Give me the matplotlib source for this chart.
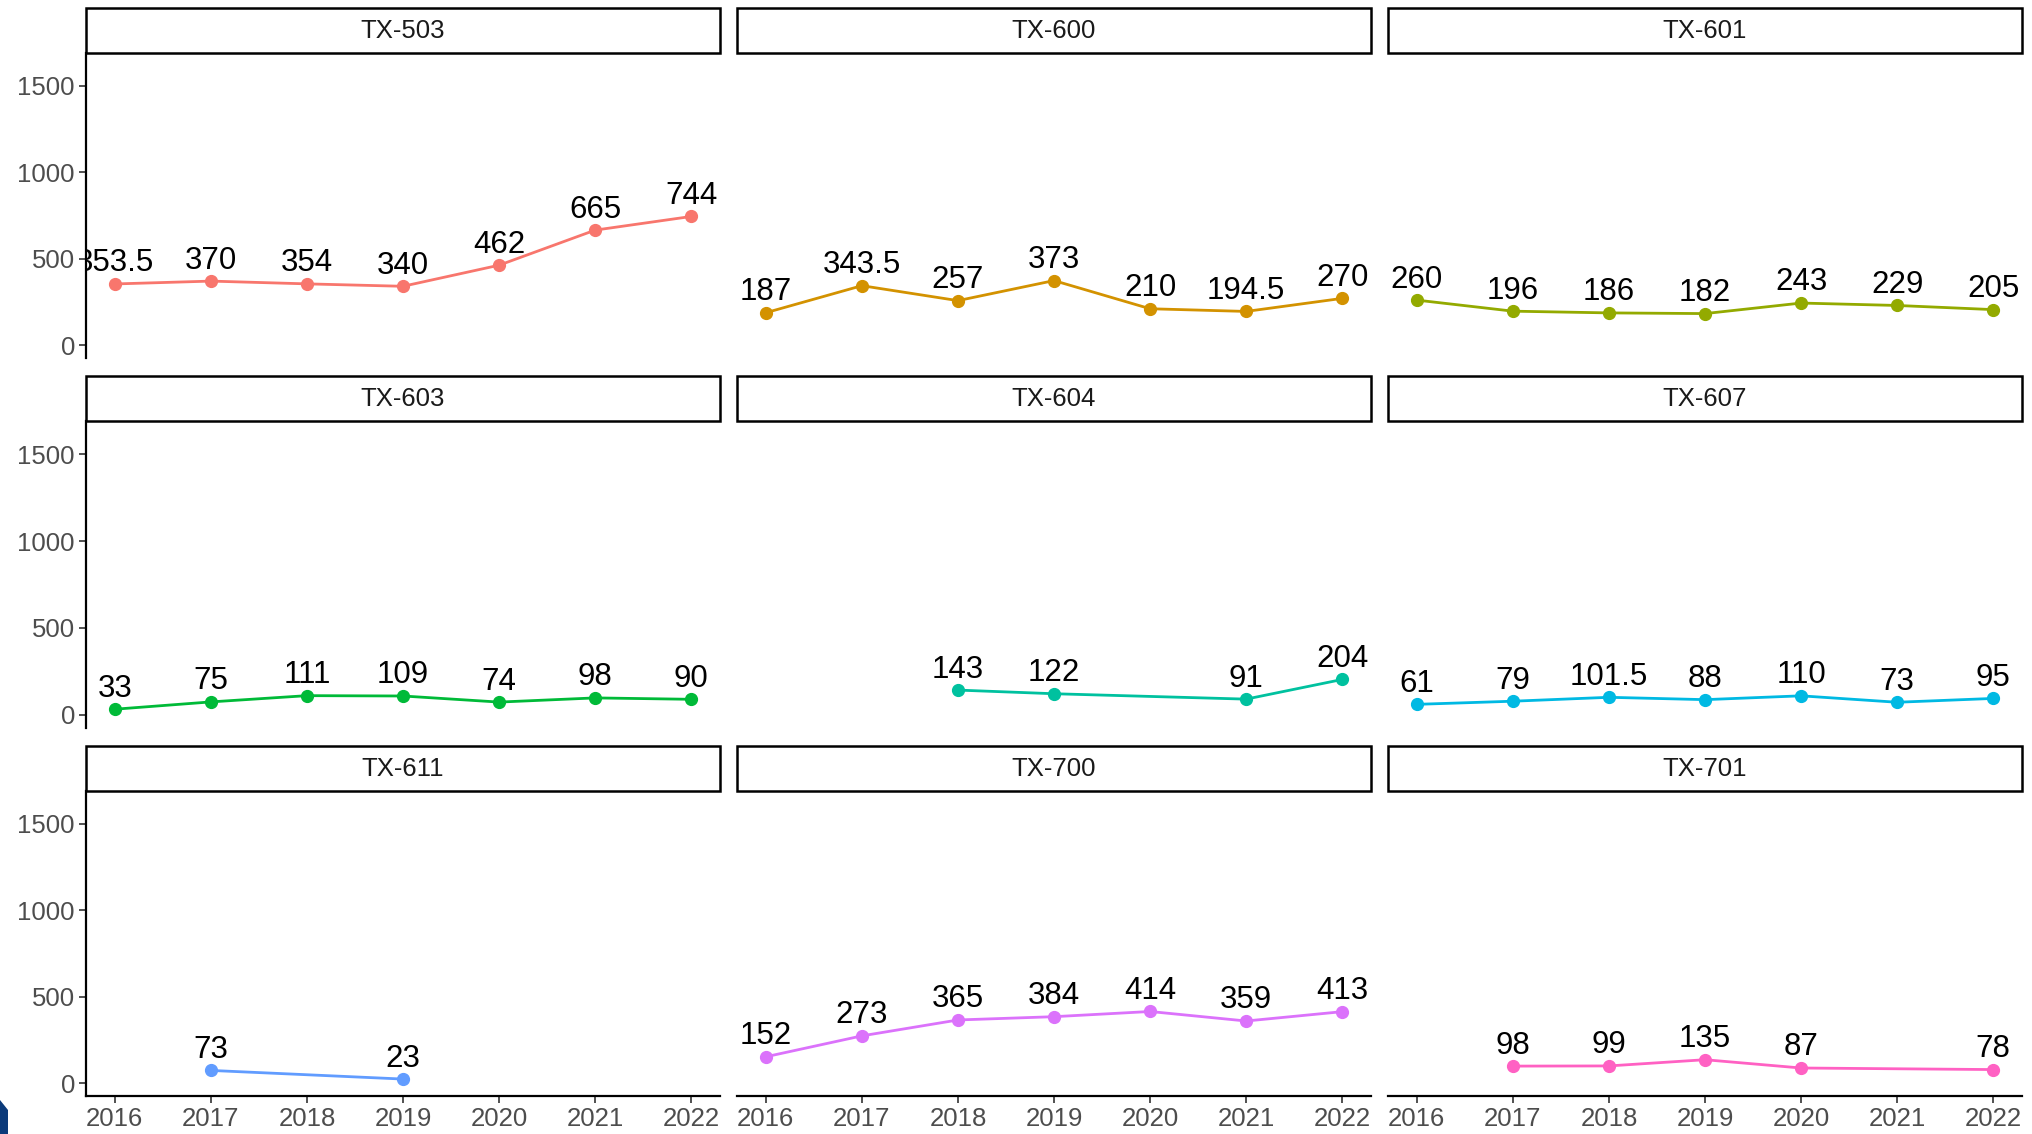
import matplotlib
matplotlib.use("Agg")
import matplotlib.pyplot as plt
from matplotlib.patches import Rectangle, Polygon

plt.rcParams['font.family'] = ['Liberation Sans', 'DejaVu Sans']

# ---- data ----
panels = ["TX-503", "TX-600", "TX-601", "TX-603", "TX-604", "TX-607", "TX-611", "TX-700", "TX-701"]
years_all = [2016, 2017, 2018, 2019, 2020, 2021, 2022]

tx503_years = [2016, 2017, 2018, 2019, 2020, 2021, 2022]
tx503_vals = [353.5, 370, 354, 340, 462, 665, 744]
tx600_years = [2016, 2017, 2018, 2019, 2020, 2021, 2022]
tx600_vals = [187, 343.5, 257, 373, 210, 194.5, 270]
tx601_years = [2016, 2017, 2018, 2019, 2020, 2021, 2022]
tx601_vals = [260, 196, 186, 182, 243, 229, 205]
tx603_years = [2016, 2017, 2018, 2019, 2020, 2021, 2022]
tx603_vals = [33, 75, 111, 109, 74, 98, 90]
tx604_years = [2018, 2019, 2021, 2022]
tx604_vals = [143, 122, 91, 204]
tx607_years = [2016, 2017, 2018, 2019, 2020, 2021, 2022]
tx607_vals = [61, 79, 101.5, 88, 110, 73, 95]
tx611_years = [2017, 2019]
tx611_vals = [73, 23]
tx700_years = [2016, 2017, 2018, 2019, 2020, 2021, 2022]
tx700_vals = [152, 273, 365, 384, 414, 359, 413]
tx701_years = [2017, 2018, 2019, 2020, 2022]
tx701_vals = [98, 99, 135, 87, 78]

y_ticks = [0, 500, 1000, 1500]

colors = ["#F8766D", "#D39200", "#93AA00", "#00BA38", "#00C19F",
          "#00B9E3", "#619CFF", "#DB72FB", "#FF61C3"]

series = [
    (tx503_years, tx503_vals), (tx600_years, tx600_vals), (tx601_years, tx601_vals),
    (tx603_years, tx603_vals), (tx604_years, tx604_vals), (tx607_years, tx607_vals),
    (tx611_years, tx611_vals), (tx700_years, tx700_vals), (tx701_years, tx701_vals),
]

# ---- layout (pixels) ----
W, H = 2032, 1134
fig = plt.figure(figsize=(W / 100, H / 100), dpi=100)

col_left = [86, 737, 1388]
col_w = 634
row_top = [53, 421, 791]
row_bot = [358, 728, 1096]
strip_h = 45

def fx(px):
    return px / W

def fy(py):
    return 1 - py / H

for i, (name, (xs, vs)) in enumerate(zip(panels, series)):
    r, c = divmod(i, 3)
    l = col_left[c]
    t = row_top[r]
    b = row_bot[r]
    ax = fig.add_axes([fx(l), fy(b), col_w / W, (b - t) / H])
    ax.set_xlim(2015.7, 2022.3)
    ax.set_ylim(-75, 1690)
    for s in ['top', 'right']:
        ax.spines[s].set_visible(False)
    ax.spines['left'].set_visible(c == 0)
    ax.spines['bottom'].set_visible(r == 2)
    for s in ['left', 'bottom']:
        ax.spines[s].set_linewidth(1.6)
        ax.spines[s].set_color('black')
    ax.set_yticks(y_ticks)
    ax.set_xticks(years_all)
    ax.tick_params(axis='both', length=5, width=1.2, color='#333333',
                   labelsize=18.5, labelcolor='#4D4D4D', pad=3)
    if c != 0:
        ax.tick_params(axis='y', left=False, labelleft=False)
    if r != 2:
        ax.tick_params(axis='x', bottom=False, labelbottom=False)
    ax.set_xticklabels([str(y) for y in years_all])
    ax.set_yticklabels([str(y) for y in y_ticks])
    ax.patch.set_alpha(0)

    ax.plot(xs, vs, color=colors[i], lw=2.0, zorder=2)
    ax.plot(xs, vs, 'o', color=colors[i], ms=8.5, zorder=3)
    for x, v in zip(xs, vs):
        ax.annotate(f"{v:g}", (x, v), xytext=(0, 4), textcoords='offset points',
                    ha='center', va='bottom', fontsize=22.5, color='black',
                    annotation_clip=False, clip_on=True)

    # strip
    sax = fig.add_axes([fx(l), fy(t), col_w / W, strip_h / H])
    sax.set_xlim(0, 1)
    sax.set_ylim(0, 1)
    sax.axis('off')
    sax.add_patch(Rectangle((0, 0), 1, 1, transform=sax.transAxes, facecolor='white',
                            edgecolor='black', lw=1.8, clip_on=False))
    sax.text(0.5, 0.5, name, ha='center', va='center', fontsize=18.5, color='#1A1A1A')

# small dark artifact at bottom-left corner
fig.patches.append(Polygon([[0, 0], [fx(8), 0], [fx(8), fy(1110)], [0, fy(1100)]],
                           closed=True, transform=fig.transFigure,
                           facecolor='#0B3A7A', edgecolor='none'))

fig.savefig("out.png", dpi=100, facecolor='white')
